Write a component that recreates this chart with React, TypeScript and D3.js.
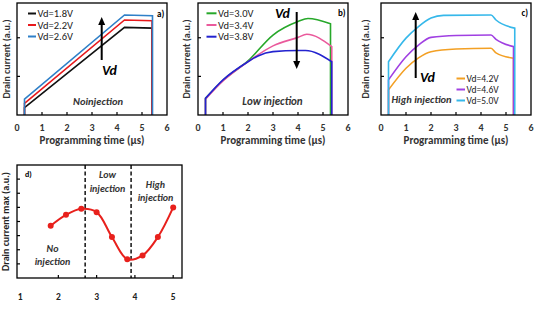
import React from 'react';
import * as d3 from 'd3';

interface Pt {
  t: number;
  v: number;
}

const FONT = 'Carlito, Lato, "Open Sans", sans-serif';

// panel a: no injection
const a18: Pt[] = [{ t: 0.3, v: 0.19 }, { t: 4.3, v: 2.27 }, { t: 5.4, v: 2.25 }];
const a22: Pt[] = [{ t: 0.3, v: 0.3 }, { t: 4.3, v: 2.46 }, { t: 5.4, v: 2.44 }];
const a26: Pt[] = [{ t: 0.3, v: 0.41 }, { t: 4.3, v: 2.59 }, { t: 5.42, v: 2.57 }];

// panel b: low injection
const b30: Pt[] = [
  { t: 0.3, v: 0.43 }, { t: 1, v: 0.9 }, { t: 2, v: 1.4 }, { t: 3, v: 2.07 },
  { t: 4, v: 2.42 }, { t: 4.4, v: 2.5 }, { t: 5.3, v: 2.36 }
];
const b34: Pt[] = [
  { t: 0.3, v: 0.41 }, { t: 1, v: 0.88 }, { t: 2, v: 1.38 }, { t: 3, v: 1.79 },
  { t: 4, v: 2.01 }, { t: 4.35, v: 2.09 }, { t: 5.35, v: 1.77 }
];
const b38: Pt[] = [
  { t: 0.3, v: 0.43 }, { t: 1, v: 0.91 }, { t: 2, v: 1.38 }, { t: 2.4, v: 1.53 },
  { t: 3, v: 1.64 }, { t: 4, v: 1.67 }, { t: 4.3, v: 1.67 }, { t: 5.35, v: 1.38 }
];

// panel c: high injection
const c42: Pt[] = [
  { t: 0.3, v: 0.65 }, { t: 1, v: 1.21 }, { t: 1.5, v: 1.48 }, { t: 2, v: 1.64 },
  { t: 3, v: 1.71 }, { t: 4.4, v: 1.73 }, { t: 4.6, v: 1.61 }, { t: 5.3, v: 1.47 }
];
const c46: Pt[] = [
  { t: 0.3, v: 0.91 }, { t: 1, v: 1.51 }, { t: 1.5, v: 1.81 }, { t: 2, v: 2.01 },
  { t: 3, v: 2.06 }, { t: 4.4, v: 2.07 }, { t: 4.6, v: 1.96 }, { t: 5.3, v: 1.77 }
];
const c50: Pt[] = [
  { t: 0.3, v: 1.38 }, { t: 1, v: 1.99 }, { t: 1.5, v: 2.29 }, { t: 2, v: 2.51 },
  { t: 2.5, v: 2.58 }, { t: 4.4, v: 2.59 }, { t: 4.6, v: 2.46 }, { t: 5.35, v: 2.25 }
];

// panel d: peak drain current vs Vd
const vdValues = [1.8, 2.2, 2.6, 3.0, 3.4, 3.8, 4.2, 4.6, 5.0];
const maxCurrent = [3.7, 4.47, 4.9, 4.66, 2.9, 1.33, 1.6, 2.9, 5.0];
const regionBounds = [2.7, 3.9];

const timeTicks = [0, 1, 2, 3, 4, 5, 6];
const vdTicks = [1, 2, 3, 4, 5];

interface Series {
  data: Pt[];
  color: string;
  label: string;
}

const TOP = 3;
const BOTTOM = 115;
const W = 150;

const Panel: React.FC<{
  x0: number;
  series: Series[];
  curve: d3.CurveFactory;
  labelX: number;
  children?: React.ReactNode;
}> = ({ x0, series, curve, labelX, children }) => {
  const x = d3.scaleLinear().domain([0, 6]).range([x0, x0 + W]);
  const y = d3.scaleLinear().domain([0, 2.9]).range([BOTTOM, TOP]);
  const line = d3.line<Pt>().x(d => x(d.t)).y(d => y(d.v)).curve(curve);

  // vertical rise at switch-on, measured trace, vertical fall at switch-off
  const pathFor = (data: Pt[]) => {
    const first = data[0];
    const last = data[data.length - 1];
    const mid = (line(data) || '').replace(/^M/, 'L');
    return `M${x(first.t)},${y(0)}${mid}L${x(last.t)},${y(0)}`;
  };

  return (
    <g>
      {series.map(s => (
        <path key={s.label} d={pathFor(s.data)} fill="none" stroke={s.color} strokeWidth={1.6} />
      ))}
      <rect x={x0} y={TOP} width={W} height={BOTTOM - TOP} fill="none" stroke="#000" strokeWidth={1.3} />
      {[1, 2].map(v => (
        <line key={v} x1={x0} x2={x0 + 3} y1={y(v)} y2={y(v)} stroke="#000" strokeWidth={1.2} />
      ))}
      {timeTicks.slice(1, 6).map(t => (
        <line key={t} x1={x(t)} x2={x(t)} y1={BOTTOM} y2={BOTTOM - 3} stroke="#000" strokeWidth={1.2} />
      ))}
      {timeTicks.map(t => (
        <text key={t} x={x(t)} y={131} textAnchor="middle" fontSize={10} fontWeight="bold" fill="#333">
          {t}
        </text>
      ))}
      <text x={x0 + 75} y={144} textAnchor="middle" fontSize={11} fontWeight="bold" fill="#333">
        Programming time (µs)
      </text>
      <text
        transform={`translate(${labelX},${(TOP + BOTTOM) / 2}) rotate(-90)`}
        textAnchor="middle"
        fontSize={10}
        fontWeight="bold"
        fill="#333"
      >
        Drain current (a.u.)
      </text>
      {children}
    </g>
  );
};

const Legend: React.FC<{ x: number; y: number; gap: number; series: Series[]; len: number; size: number }> = ({
  x, y, gap, series, len, size
}) => (
  <g>
    {series.map((s, i) => (
      <g key={s.label} transform={`translate(${x},${y + i * gap})`}>
        <line x1={0} x2={len} y1={0} y2={0} stroke={s.color} strokeWidth={2} />
        <text x={len + 1.5} y={size * 0.35} fontSize={size} fill="#222">
          {s.label}
        </text>
      </g>
    ))}
  </g>
);

const Arrow: React.FC<{ x: number; from: number; to: number }> = ({ x, from, to }) => {
  const dir = to < from ? 1 : -1;
  return (
    <g>
      <line x1={x} x2={x} y1={from} y2={to + dir * 6} stroke="#000" strokeWidth={2} />
      <path d={`M${x},${to}L${x - 3.5},${to + dir * 8}L${x + 3.5},${to + dir * 8}Z`} fill="#000" />
    </g>
  );
};

const App: React.FC = () => {
  const seriesA: Series[] = [
    { data: a18, color: '#111', label: 'Vd=1.8V' },
    { data: a22, color: '#e8191c', label: 'Vd=2.2V' },
    { data: a26, color: '#2f80c8', label: 'Vd=2.6V' }
  ];
  const seriesB: Series[] = [
    { data: b30, color: '#27a82a', label: 'Vd=3.0V' },
    { data: b34, color: '#ea5a9c', label: 'Vd=3.4V' },
    { data: b38, color: '#2323cf', label: 'Vd=3.8V' }
  ];
  const seriesC: Series[] = [
    { data: c42, color: '#f3a024', label: 'Vd=4.2V' },
    { data: c46, color: '#a040e2', label: 'Vd=4.6V' },
    { data: c50, color: '#36b8ea', label: 'Vd=5.0V' }
  ];

  // panel d scales
  const dx = d3.scaleLinear().domain([0.92, 5.23]).range([17, 182]);
  const dy = d3.scaleLinear().domain([0, 8]).range([278, 165]);
  const dPts = vdValues.map((v, i) => ({ t: v, v: maxCurrent[i] }));
  const dLine = d3.line<Pt>().x(d => dx(d.t)).y(d => dy(d.v)).curve(d3.curveCatmullRom.alpha(0.5));

  return (
    <>
      <style>{'body{margin:0}'}</style>
      <svg width={537} height={310} style={{ display: 'block', background: '#fff' }} fontFamily={FONT}>
        <Panel x0={17} series={seriesA} curve={d3.curveLinear} labelX={9.5}>
          <Legend x={28} y={13.5} gap={11.5} series={seriesA} len={8} size={10.5} />
          <Arrow x={101.7} from={60} to={17} />
          <text x={102} y={75} fontSize={14} fontStyle="italic" fontWeight="bold">Vd</text>
          <text x={98} y={105} textAnchor="middle" fontSize={10.5} fontStyle="italic" fontWeight="bold" fill="#333">
            Noinjection
          </text>
          <text x={157} y={17} fontSize={9} fontWeight="bold">a)</text>
        </Panel>
        <Panel x0={198} series={seriesB} curve={d3.curveMonotoneX} labelX={189.5}>
          <Legend x={206.5} y={13.3} gap={11.7} series={seriesB} len={10} size={10.5} />
          <Arrow x={296.7} from={12} to={69} />
          <text x={275} y={18} fontSize={14} fontStyle="italic" fontWeight="bold">Vd</text>
          <text x={272.5} y={104.5} textAnchor="middle" fontSize={11} fontStyle="italic" fontWeight="bold" fill="#333">
            Low injection
          </text>
          <text x={338} y={16} fontSize={9} fontWeight="bold">b)</text>
        </Panel>
        <Panel x0={381} series={seriesC} curve={d3.curveMonotoneX} labelX={369}>
          <Legend x={456.5} y={78.5} gap={11} series={seriesC} len={8.5} size={9.5} />
          <Arrow x={415.7} from={78} to={12} />
          <text x={420} y={82} fontSize={14} fontStyle="italic" fontWeight="bold">Vd</text>
          <text x={391.5} y={103} fontSize={10.5} fontStyle="italic" fontWeight="bold" fill="#333">
            High injection
          </text>
          <text x={521.5} y={16} fontSize={9} fontWeight="bold">c)</text>
        </Panel>

        {/* panel d */}
        <g>
          {regionBounds.map(b => (
            <line key={b} x1={dx(b)} x2={dx(b)} y1={165} y2={278} stroke="#000" strokeWidth={1.4} strokeDasharray="4,2.5" />
          ))}
          <path d={dLine(dPts) || ''} fill="none" stroke="#e8201c" strokeWidth={2} />
          {dPts.map(p => (
            <circle key={p.t} cx={dx(p.t)} cy={dy(p.v)} r={3} fill="#e8201c" />
          ))}
          <rect x={17} y={165} width={165} height={113} fill="none" stroke="#000" strokeWidth={1.3} />
          {d3.range(1, 8).map(v => (
            <line key={v} x1={17} x2={20} y1={dy(v)} y2={dy(v)} stroke="#000" strokeWidth={1.2} />
          ))}
          {vdTicks.slice(1).map(v => (
            <line key={v} x1={dx(v)} x2={dx(v)} y1={278} y2={275} stroke="#000" strokeWidth={1.2} />
          ))}
          {vdTicks.map(v => (
            <text key={v} x={dx(v)} y={300} textAnchor="middle" fontSize={9.5} fontWeight="bold" fill="#222">
              {v}
            </text>
          ))}
          <text x={135} y={318} textAnchor="middle" fontSize={10} fontWeight="bold" fill="#333">Vd (V)</text>
          <text
            transform="translate(9,221.5) rotate(-90)"
            textAnchor="middle"
            fontSize={10}
            fontWeight="bold"
            fill="#222"
          >
            Drain current max (a.u.)
          </text>
          <text x={25} y={176.5} fontSize={8} fontWeight="bold">d)</text>
          <g fontSize={10} fontStyle="italic" fontWeight="bold" fill="#333" textAnchor="middle">
            <text x={107.5} y={178}>Low</text>
            <text x={107.5} y={191.5}>injection</text>
            <text x={155.5} y={187.5}>High</text>
            <text x={155.5} y={201}>injection</text>
            <text x={52.5} y={251.5}>No</text>
            <text x={52.5} y={264.5}>injection</text>
          </g>
        </g>
      </svg>
    </>
  );
};

export default App;
